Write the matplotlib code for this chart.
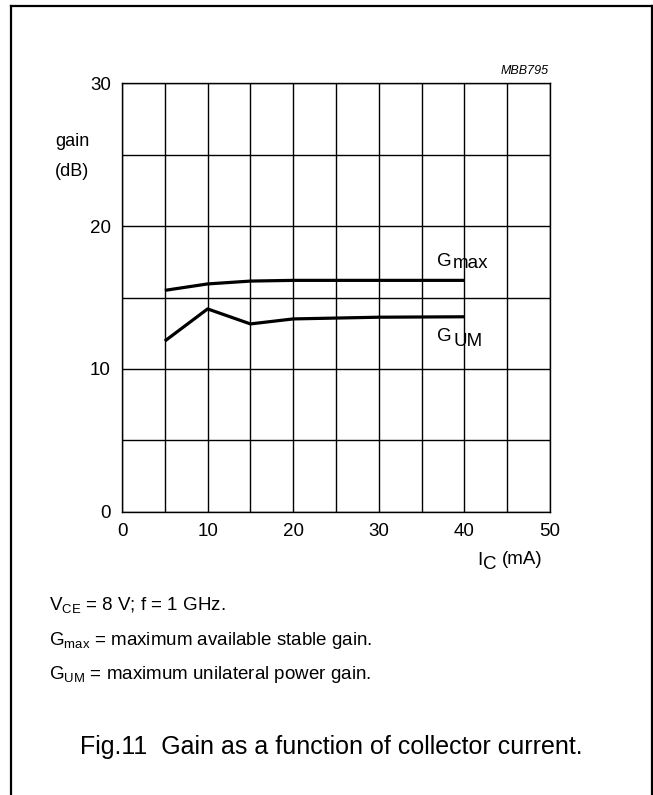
import matplotlib
matplotlib.use("Agg")
import matplotlib.pyplot as plt
from matplotlib.lines import Line2D

plt.rcParams['font.family'] = ['Liberation Sans', 'DejaVu Sans']

# Data
ic_gmax = [5, 10, 15, 20, 30, 40]
gmax = [15.5, 15.95, 16.15, 16.2, 16.2, 16.2]
ic_gum = [5, 10, 15, 20, 30, 40]
gum = [11.95, 14.2, 13.15, 13.5, 13.62, 13.65]
xticks = [0, 10, 20, 30, 40, 50]
yticks = [0, 10, 20, 30]

W, H = 653, 795
fig = plt.figure(figsize=(W / 100, H / 100), dpi=100)

def fx(px):
    return px / W

def fy(py):
    return 1 - py / H

# outer frame (no bottom)
for (x0, y0, x1, y1) in [(11, 795, 11, 6), (11, 6, 652, 6), (652, 6, 652, 795)]:
    fig.add_artist(Line2D([fx(x0), fx(x1)], [fy(y0), fy(y1)], color='black', lw=1.6))

L, R, T, B = 122, 550, 83.3, 511.7
ax = fig.add_axes([fx(L), fy(B), (R - L) / W, (B - T) / H])
ax.set_xlim(0, 50)
ax.set_ylim(0, 30)
ax.set_xticks(range(0, 51, 5))
ax.set_yticks(range(0, 31, 5))
ax.grid(True, color='black', lw=1.0)
ax.tick_params(length=0, labelsize=13.5, pad=8)
ax.set_xticklabels([str(v) if v in xticks else '' for v in range(0, 51, 5)])
ax.set_yticklabels([str(v) if v in yticks else '' for v in range(0, 31, 5)])
for s in ax.spines.values():
    s.set_linewidth(1.0)

ax.plot(ic_gmax, gmax, color='black', lw=2.3, solid_capstyle='butt')
ax.plot(ic_gum, gum, color='black', lw=2.3, solid_capstyle='butt')

# curve labels
ax.text(36.75, 17.55, 'G', fontsize=13.5, ha='left', va='center')
ax.text(38.7, 17.35, 'max', fontsize=13.5, ha='left', va='center')
ax.text(36.75, 12.3, 'G', fontsize=13.5, ha='left', va='center')
ax.text(38.7, 11.95, 'UM', fontsize=13.5, ha='left', va='center')

# axis labels
fig.text(fx(55), fy(141), 'gain', fontsize=13, ha='left', va='center')
fig.text(fx(55), fy(172), '(dB)', fontsize=13, ha='left', va='center')
fig.text(fx(477), fy(565), 'I', fontsize=13.5, ha='left', va='baseline')
fig.text(fx(483), fy(569), 'C', fontsize=13.5, ha='left', va='baseline')
fig.text(fx(502), fy(560), '(mA)', fontsize=13.5, ha='left', va='center')

fig.text(fx(549), fy(71), 'MBB795', fontsize=9, style='italic', ha='right', va='center')

# footnotes
fn = dict(fontsize=13.5, ha='left', va='baseline')
fig.text(fx(49), fy(611), r'V$_{\mathregular{CE}}$ = 8 V; f = 1 GHz.', **fn)
fig.text(fx(49), fy(645), r'G$_{\mathregular{max}}$ = maximum available stable gain.', **fn)
fig.text(fx(49), fy(679), r'G$_{\mathregular{UM}}$ = maximum unilateral power gain.', **fn)

fig.text(fx(331), fy(747), 'Fig.11  Gain as a function of collector current.', fontsize=18,
         ha='center', va='center')

fig.savefig('out.png', dpi=100)
